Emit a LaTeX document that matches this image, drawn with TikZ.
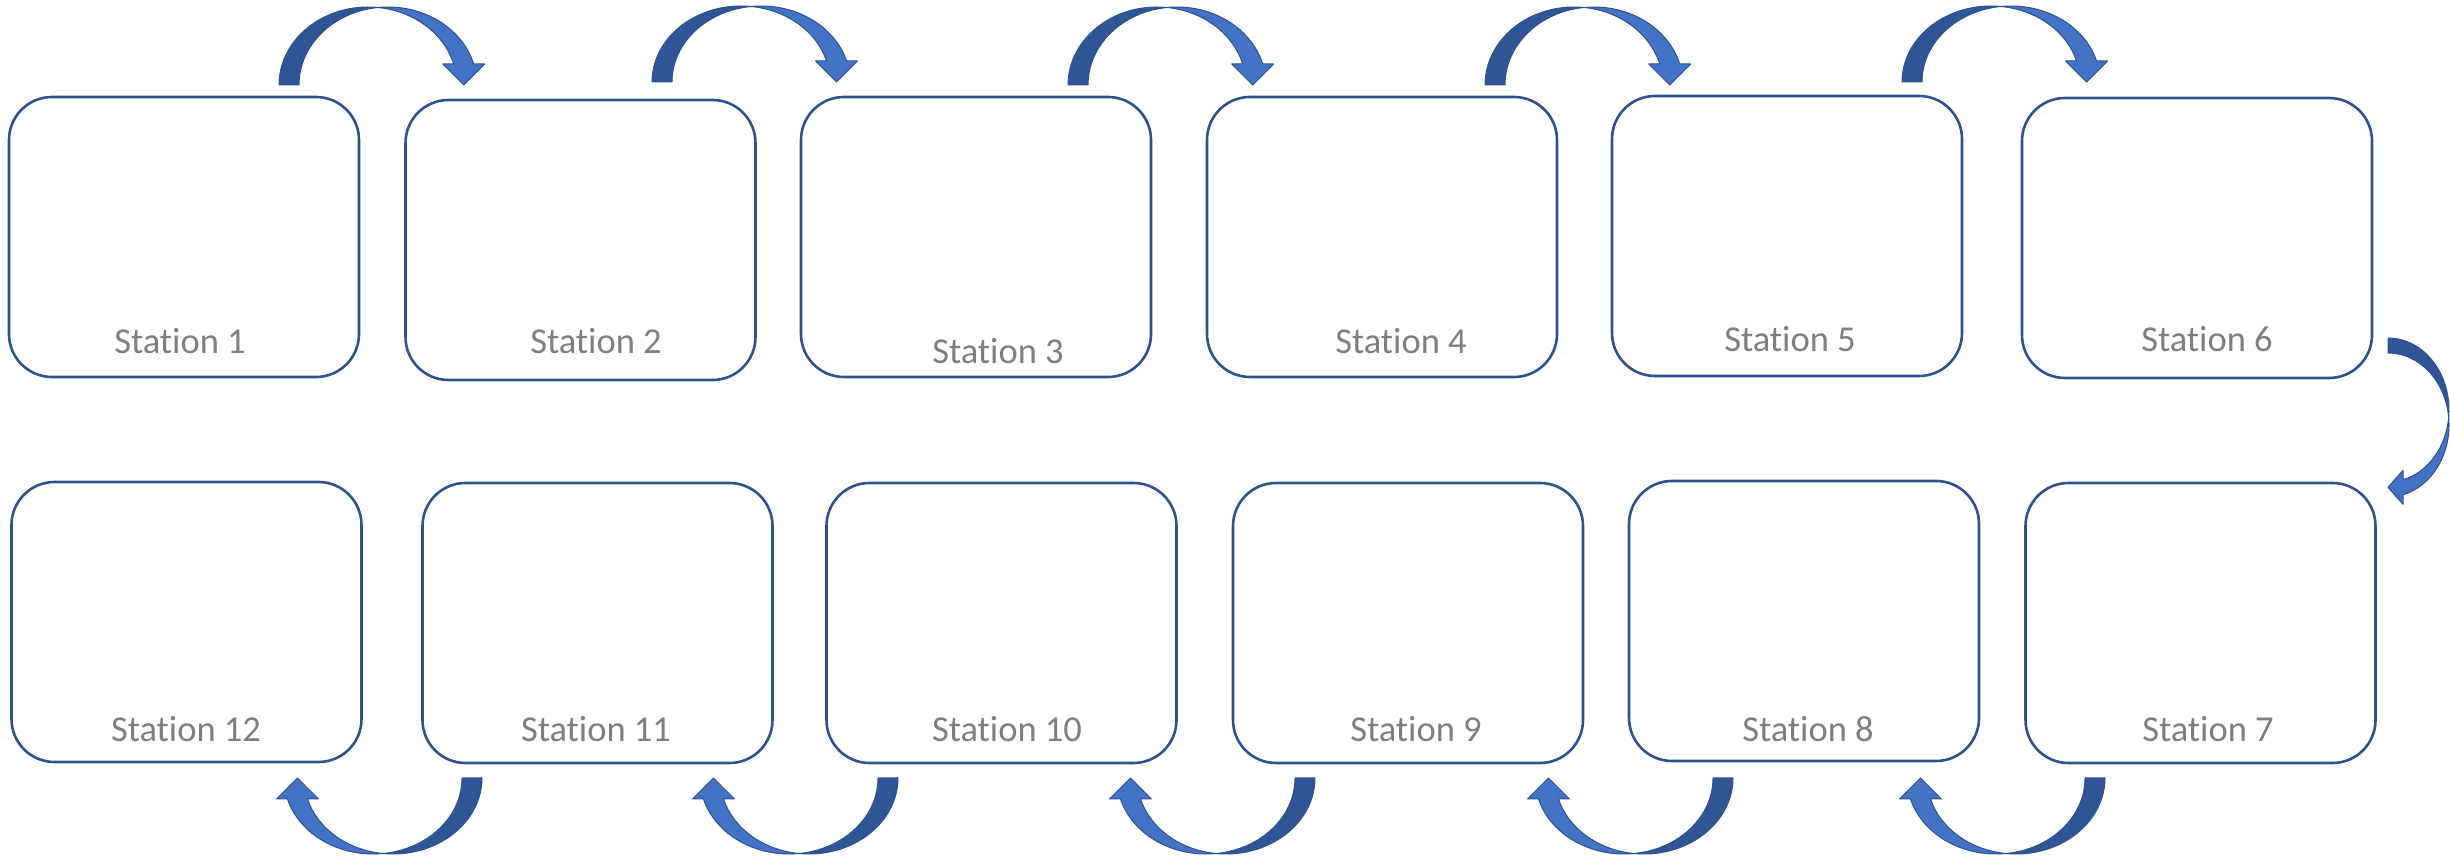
\documentclass[tikz,border=0pt]{standalone}
\usepackage{fontspec}
\setmainfont{Carlito}[Ligatures={NoCommon}]
\usepackage{xcolor}
\usepackage{tikz}
\usetikzlibrary{positioning}
\definecolor{boxBlue}{RGB}{47,82,143}
\definecolor{bandDark}{RGB}{47,85,151}
\definecolor{bandLight}{RGB}{68,114,196}
\definecolor{lblGray}{RGB}{127,127,127}

% bent block arrow: shift, rotate, a, b, band, neck height, head half width
\newcommand{\bendarrow}[7]{%
    \begin{scope}[shift={#1}, rotate=#2]
        \pgfmathsetmacro\thc{acos(#5/(2*#3))}
        \pgfmathsetmacro\yc{#4*sin(\thc)}
        \pgfmathsetmacro\thn{asin(#6/#4)}
        \pgfmathsetmacro\xin{#3*cos(\thn)}
        \pgfmathsetmacro\xn{\xin+#5/2}
        \filldraw[backband] (-#3,0) arc[start angle=180, end angle=\thc, x radius=#3, y radius=#4]
            arc[start angle=180-\thc, end angle=180, x radius=#3, y radius=#4] -- cycle;
        \filldraw[frontband] (#5/2,\yc) arc[start angle=180-\thc, end angle=\thn, x radius=#3, y radius=#4]
            -- (\xn+#7,#6) -- (\xn,0) -- (\xn-#7,#6) -- (\xin,#6)
            arc[start angle=\thn, end angle=\thc, x radius=#3, y radius=#4] -- cycle;
    \end{scope}}

\begin{document}
\begin{tikzpicture}[
        x=1pt, y=1pt,
        stn/.style={rectangle, rounded corners=43pt, draw=boxBlue, line width=2.6pt, fill=white,
            minimum width=350pt, minimum height=280pt, inner sep=0pt},
        lbl/.style={font=\fontsize{36.5}{44}\selectfont, text=lblGray, inner sep=0pt, anchor=base},
        backband/.style={fill=bandDark, draw=boxBlue, line width=1pt, line join=round},
        frontband/.style={fill=bandLight, draw=boxBlue, line width=1pt, line join=round}
    ]
    \useasboundingbox (0,0) rectangle (2450,857);

    % top row
    \node[stn] (s1) at (184,620)   {};
    \node[stn] (s2) at (580.5,617) {};
    \node[stn] (s3) at (976,620)   {};
    \node[stn] (s4) at (1382,620)  {};
    \node[stn] (s5) at (1787,621)  {};
    \node[stn] (s6) at (2197,619)  {};
    % bottom row
    \node[stn] (s7)  at (2200.5,234) {};
    \node[stn] (s8)  at (1804,236)   {};
    \node[stn] (s9)  at (1408,234)   {};
    \node[stn] (s10) at (1001.5,234) {};
    \node[stn] (s11) at (597.5,234)  {};
    \node[stn] (s12) at (186.5,235)  {};

    \node[lbl] (t1)  at (180,503)  {Station 1};
    \node[lbl] (t2)  at (596,503)  {Station 2};
    \node[lbl] (t3)  at (998,493)  {Station 3};
    \node[lbl] (t4)  at (1401,503) {Station 4};
    \node[lbl] (t5)  at (1790,505) {Station 5};
    \node[lbl] (t6)  at (2207,505) {Station 6};
    \node[lbl] (t7)  at (2208,115) {Station 7};
    \node[lbl] (t8)  at (1808,115) {Station 8};
    \node[lbl] (t9)  at (1416,115) {Station 9};
    \node[lbl] (t10) at (1007,115) {Station 10};
    \node[lbl] (t11) at (596,115)  {Station 11};
    \node[lbl] (t12) at (186,115)  {Station 12};

    % arrows over the top
    \bendarrow{(368,772)}{0}{89}{78}{20}{21}{21}
    \bendarrow{(741,775)}{0}{89}{76}{20}{21}{21}
    \bendarrow{(1157,772)}{0}{89}{78}{20}{21}{21}
    \bendarrow{(1574,772)}{0}{89}{78}{20}{21}{21}
    \bendarrow{(1991,775)}{0}{89}{76}{20}{21}{21}
    % turn at the right end
    \bendarrow{(2388,447)}{-90}{72}{61}{15}{15}{17}
    % arrows under the bottom
    \bendarrow{(2016,79)}{180}{89}{76}{20}{21}{21}
    \bendarrow{(1644,79)}{180}{89}{76}{20}{21}{21}
    \bendarrow{(1226,79)}{180}{89}{76}{20}{21}{21}
    \bendarrow{(809,79)}{180}{89}{76}{20}{21}{21}
    \bendarrow{(393,79)}{180}{89}{76}{20}{21}{21}
\end{tikzpicture}
\end{document}
